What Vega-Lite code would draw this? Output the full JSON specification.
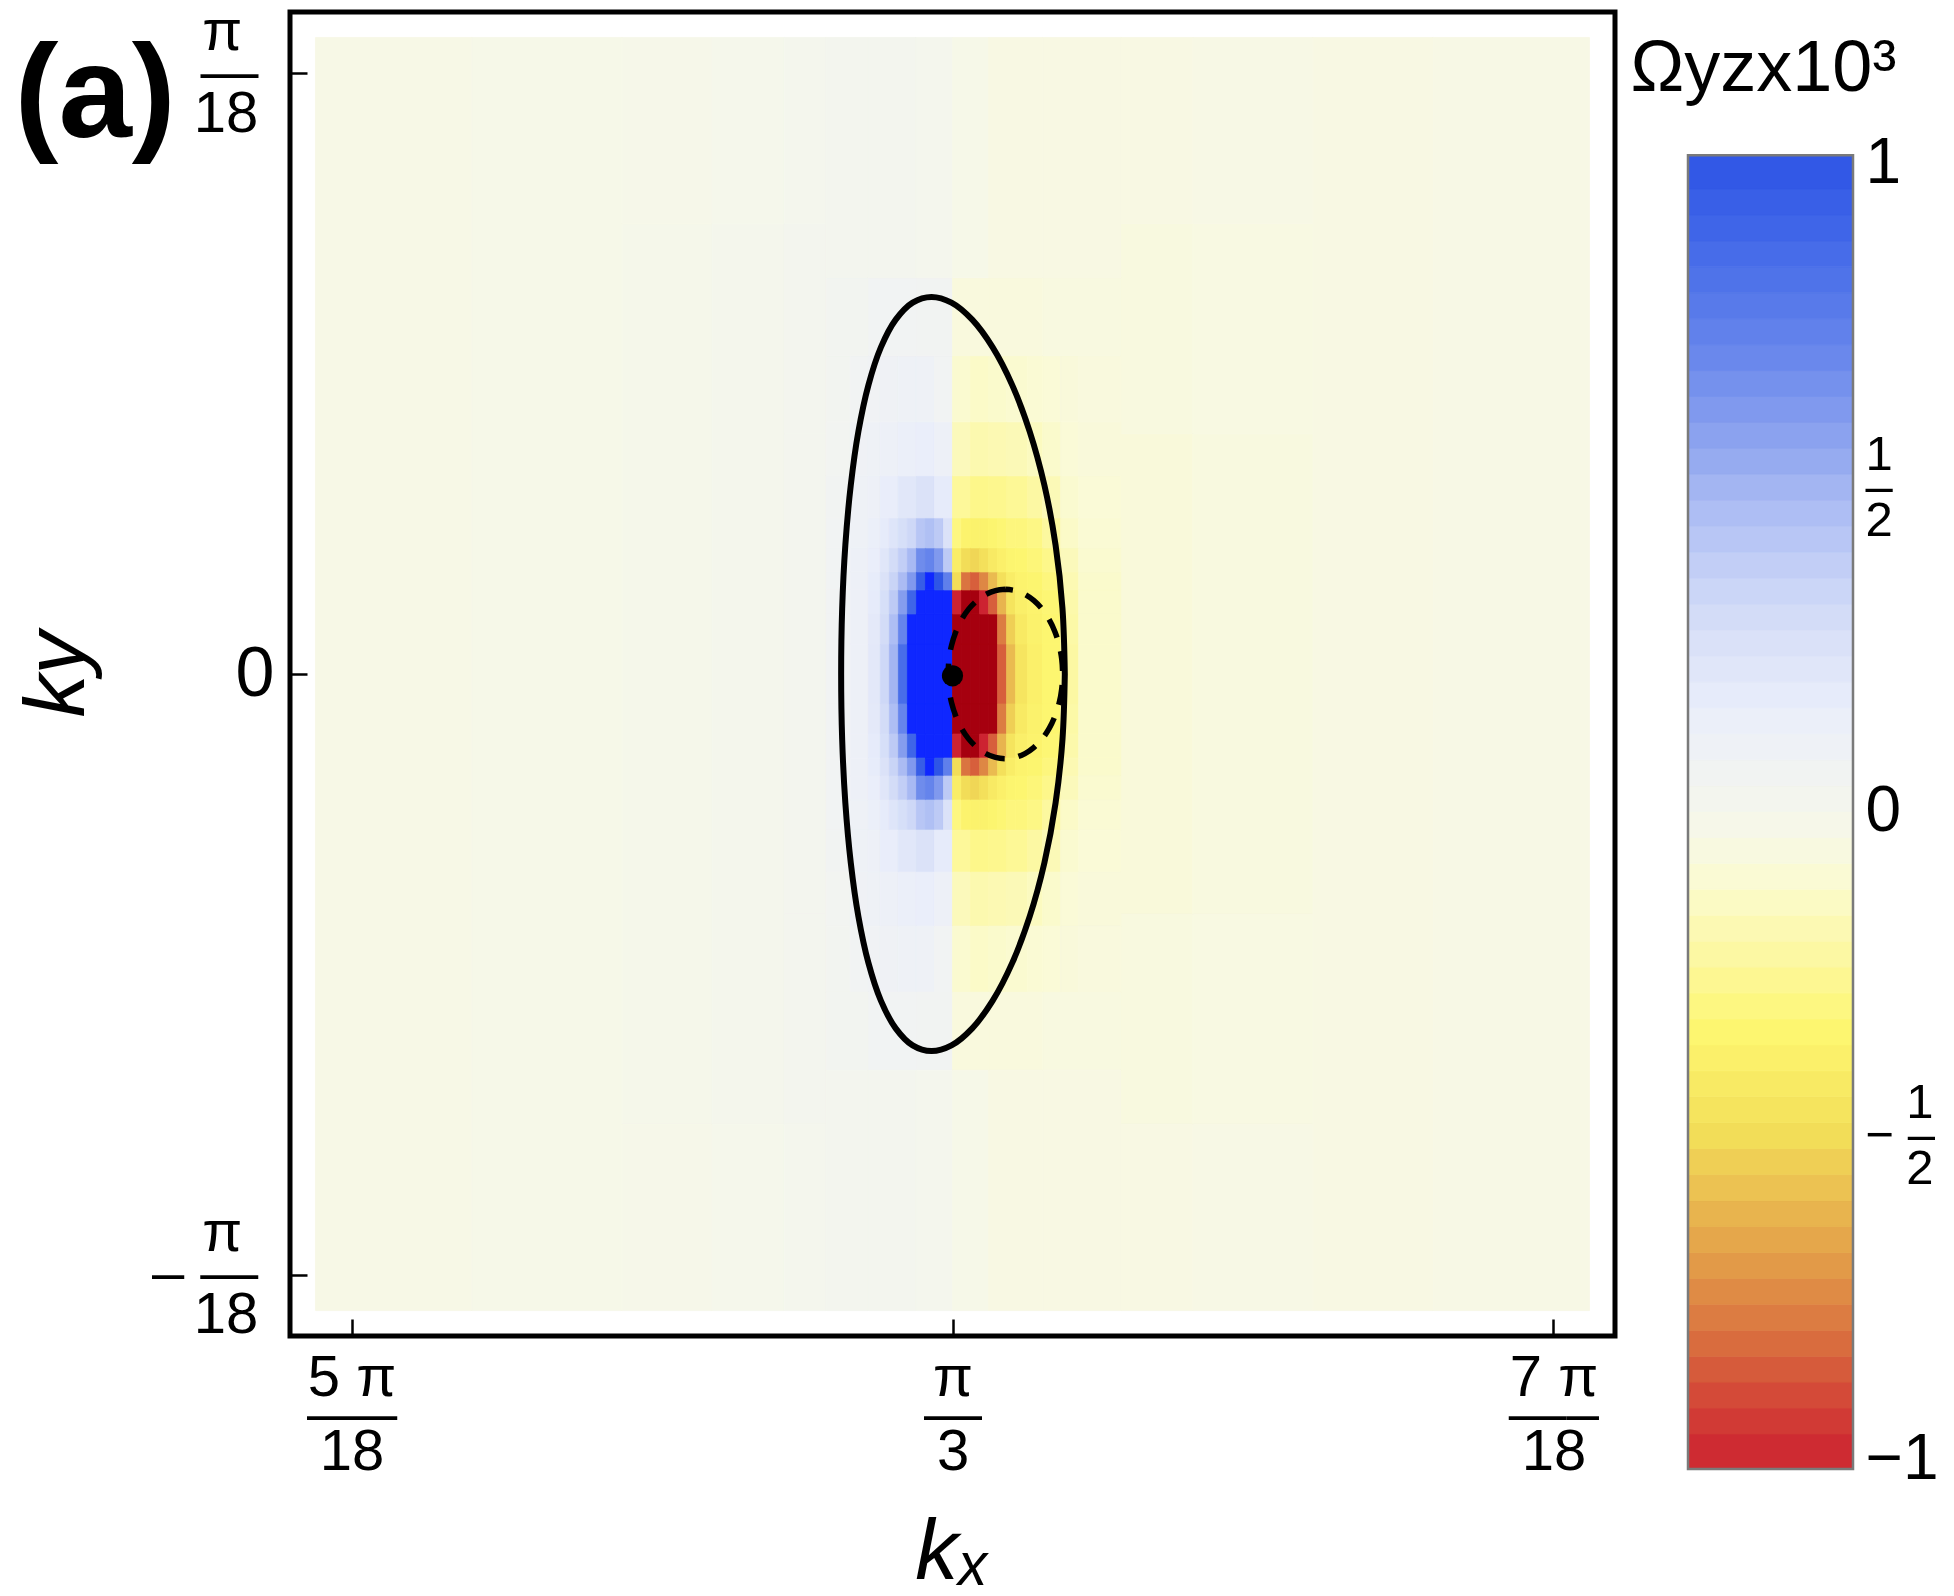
{
"$schema":"https://vega.github.io/schema/vega-lite/v6.json",
"background":"white",
"padding":{"left":11,"top":0,"right":0,"bottom":0},
"title":{"text":"(a)","anchor":"start","frame":"bounds","font":"Liberation Sans","fontSize":132,"fontWeight":"bold","color":"black","baseline":"alphabetic","offset":-268,"dx":3},
"spacing":73,
"bounds":"flush",
"config":{"font":"Liberation Sans","view":{"stroke":"black","strokeWidth":5},"axis":{"labelColor":"black","titleColor":"black","tickColor":"black","labelFont":"Liberation Sans","titleFont":"Liberation Sans","grid":false,"domain":false}},
"hconcat":[
{"width":1325,"height":1324,
"layer":[
{"data":{"values":[
{"x0":4.94,"x1":5.2,"y0":-1.06,"y1":1.06,"v":-0.04},
{"x0":5.2,"x1":5.45,"y0":-1.06,"y1":1.06,"v":-0.03},
{"x0":5.45,"x1":5.6,"y0":-0.75,"y1":0.75,"v":-0.015},
{"x0":5.45,"x1":5.6,"y0":0.75,"y1":1.06,"v":-0.02},
{"x0":5.45,"x1":5.6,"y0":-1.06,"y1":-0.75,"v":-0.02},
{"x0":5.6,"x1":5.72,"y0":-0.75,"y1":0.75,"v":0},
{"x0":5.6,"x1":5.72,"y0":0.75,"y1":1.06,"v":-0.01},
{"x0":5.6,"x1":5.72,"y0":-1.06,"y1":-0.75,"v":-0.01},
{"x0":5.72,"x1":5.79,"y0":-0.4,"y1":0.4,"v":0.02},
{"x0":5.72,"x1":5.79,"y0":0.4,"y1":0.75,"v":0.015},
{"x0":5.72,"x1":5.79,"y0":-0.75,"y1":-0.4,"v":0.015},
{"x0":5.72,"x1":5.79,"y0":0.75,"y1":1.06,"v":0.005},
{"x0":5.72,"x1":5.79,"y0":-1.06,"y1":-0.75,"v":0.005},
{"x0":6.28,"x1":6.4,"y0":-0.4,"y1":0.4,"v":-0.08},
{"x0":6.28,"x1":6.4,"y0":0.4,"y1":0.75,"v":-0.065},
{"x0":6.28,"x1":6.4,"y0":-0.75,"y1":-0.4,"v":-0.065},
{"x0":6.28,"x1":6.4,"y0":0.75,"y1":1.06,"v":-0.05},
{"x0":6.28,"x1":6.4,"y0":-1.06,"y1":-0.75,"v":-0.05},
{"x0":6.4,"x1":6.6,"y0":-0.4,"y1":0.4,"v":-0.065},
{"x0":6.4,"x1":6.6,"y0":0.4,"y1":0.75,"v":-0.055},
{"x0":6.4,"x1":6.6,"y0":-0.75,"y1":-0.4,"v":-0.055},
{"x0":6.4,"x1":6.6,"y0":0.75,"y1":1.06,"v":-0.045},
{"x0":6.4,"x1":6.6,"y0":-1.06,"y1":-0.75,"v":-0.045},
{"x0":6.6,"x1":6.8,"y0":-1.06,"y1":1.06,"v":-0.05},
{"x0":6.8,"x1":7.06,"y0":-1.06,"y1":1.06,"v":-0.045},

{"x0":5.79,"x1":5.83,"y0":-0.05,"y1":0.05,"v":0.07},
{"x0":5.79,"x1":5.83,"y0":0.05,"y1":0.1,"v":0.07},{"x0":5.79,"x1":5.83,"y0":-0.1,"y1":-0.05,"v":0.07},
{"x0":5.79,"x1":5.83,"y0":0.1,"y1":0.14,"v":0.07},{"x0":5.79,"x1":5.83,"y0":-0.14,"y1":-0.1,"v":0.07},
{"x0":5.79,"x1":5.83,"y0":0.14,"y1":0.17,"v":0.07},{"x0":5.79,"x1":5.83,"y0":-0.17,"y1":-0.14,"v":0.07},
{"x0":5.79,"x1":5.83,"y0":0.17,"y1":0.21,"v":0.07},{"x0":5.79,"x1":5.83,"y0":-0.21,"y1":-0.17,"v":0.07},
{"x0":5.79,"x1":5.83,"y0":0.21,"y1":0.26,"v":0.065},{"x0":5.79,"x1":5.83,"y0":-0.26,"y1":-0.21,"v":0.065},

{"x0":5.83,"x1":5.86,"y0":-0.05,"y1":0.05,"v":0.12},
{"x0":5.83,"x1":5.86,"y0":0.05,"y1":0.1,"v":0.12},{"x0":5.83,"x1":5.86,"y0":-0.1,"y1":-0.05,"v":0.12},
{"x0":5.83,"x1":5.86,"y0":0.1,"y1":0.14,"v":0.12},{"x0":5.83,"x1":5.86,"y0":-0.14,"y1":-0.1,"v":0.12},
{"x0":5.83,"x1":5.86,"y0":0.14,"y1":0.17,"v":0.115},{"x0":5.83,"x1":5.86,"y0":-0.17,"y1":-0.14,"v":0.115},
{"x0":5.83,"x1":5.86,"y0":0.17,"y1":0.21,"v":0.11},{"x0":5.83,"x1":5.86,"y0":-0.21,"y1":-0.17,"v":0.11},
{"x0":5.83,"x1":5.86,"y0":0.21,"y1":0.26,"v":0.105},{"x0":5.83,"x1":5.86,"y0":-0.26,"y1":-0.21,"v":0.105},

{"x0":5.86,"x1":5.88,"y0":-0.05,"y1":0.05,"v":0.2},
{"x0":5.86,"x1":5.88,"y0":0.05,"y1":0.1,"v":0.19},{"x0":5.86,"x1":5.88,"y0":-0.1,"y1":-0.05,"v":0.19},
{"x0":5.86,"x1":5.88,"y0":0.1,"y1":0.14,"v":0.18},{"x0":5.86,"x1":5.88,"y0":-0.14,"y1":-0.1,"v":0.18},
{"x0":5.86,"x1":5.88,"y0":0.14,"y1":0.17,"v":0.17},{"x0":5.86,"x1":5.88,"y0":-0.17,"y1":-0.14,"v":0.17},
{"x0":5.86,"x1":5.88,"y0":0.17,"y1":0.21,"v":0.15},{"x0":5.86,"x1":5.88,"y0":-0.21,"y1":-0.17,"v":0.15},
{"x0":5.86,"x1":5.88,"y0":0.21,"y1":0.26,"v":0.14},{"x0":5.86,"x1":5.88,"y0":-0.26,"y1":-0.21,"v":0.14},

{"x0":5.88,"x1":5.895,"y0":-0.05,"y1":0.05,"v":0.33},
{"x0":5.88,"x1":5.895,"y0":0.05,"y1":0.1,"v":0.3},{"x0":5.88,"x1":5.895,"y0":-0.1,"y1":-0.05,"v":0.3},
{"x0":5.88,"x1":5.895,"y0":0.1,"y1":0.14,"v":0.28},{"x0":5.88,"x1":5.895,"y0":-0.14,"y1":-0.1,"v":0.28},
{"x0":5.88,"x1":5.895,"y0":0.14,"y1":0.17,"v":0.25},{"x0":5.88,"x1":5.895,"y0":-0.17,"y1":-0.14,"v":0.25},
{"x0":5.88,"x1":5.895,"y0":0.17,"y1":0.21,"v":0.22},{"x0":5.88,"x1":5.895,"y0":-0.21,"y1":-0.17,"v":0.22},
{"x0":5.88,"x1":5.895,"y0":0.21,"y1":0.26,"v":0.18},{"x0":5.88,"x1":5.895,"y0":-0.26,"y1":-0.21,"v":0.18},

{"x0":5.895,"x1":5.91,"y0":-0.05,"y1":0.05,"v":0.5},
{"x0":5.895,"x1":5.91,"y0":0.05,"y1":0.1,"v":0.46},{"x0":5.895,"x1":5.91,"y0":-0.1,"y1":-0.05,"v":0.46},
{"x0":5.895,"x1":5.91,"y0":0.1,"y1":0.14,"v":0.4},{"x0":5.895,"x1":5.91,"y0":-0.14,"y1":-0.1,"v":0.4},
{"x0":5.895,"x1":5.91,"y0":0.14,"y1":0.17,"v":0.35},{"x0":5.895,"x1":5.91,"y0":-0.17,"y1":-0.14,"v":0.35},
{"x0":5.895,"x1":5.91,"y0":0.17,"y1":0.21,"v":0.3},{"x0":5.895,"x1":5.91,"y0":-0.21,"y1":-0.17,"v":0.3},
{"x0":5.895,"x1":5.91,"y0":0.21,"y1":0.26,"v":0.23},{"x0":5.895,"x1":5.91,"y0":-0.26,"y1":-0.21,"v":0.23},

{"x0":5.91,"x1":5.925,"y0":-0.05,"y1":0.05,"v":0.85},
{"x0":5.91,"x1":5.925,"y0":0.05,"y1":0.1,"v":0.72},{"x0":5.91,"x1":5.925,"y0":-0.1,"y1":-0.05,"v":0.72},
{"x0":5.91,"x1":5.925,"y0":0.1,"y1":0.14,"v":0.6},{"x0":5.91,"x1":5.925,"y0":-0.14,"y1":-0.1,"v":0.6},
{"x0":5.91,"x1":5.925,"y0":0.14,"y1":0.17,"v":0.47},{"x0":5.91,"x1":5.925,"y0":-0.17,"y1":-0.14,"v":0.47},
{"x0":5.91,"x1":5.925,"y0":0.17,"y1":0.21,"v":0.38},{"x0":5.91,"x1":5.925,"y0":-0.21,"y1":-0.17,"v":0.38},
{"x0":5.91,"x1":5.925,"y0":0.21,"y1":0.26,"v":0.28},{"x0":5.91,"x1":5.925,"y0":-0.26,"y1":-0.21,"v":0.28},

{"x0":5.925,"x1":5.94,"y0":-0.05,"y1":0.05,"v":1.2},
{"x0":5.925,"x1":5.94,"y0":0.05,"y1":0.1,"v":1.2},{"x0":5.925,"x1":5.94,"y0":-0.1,"y1":-0.05,"v":1.2},
{"x0":5.925,"x1":5.94,"y0":0.1,"y1":0.14,"v":0.9},{"x0":5.925,"x1":5.94,"y0":-0.14,"y1":-0.1,"v":0.9},
{"x0":5.925,"x1":5.94,"y0":0.14,"y1":0.17,"v":0.62},{"x0":5.925,"x1":5.94,"y0":-0.17,"y1":-0.14,"v":0.62},
{"x0":5.925,"x1":5.94,"y0":0.17,"y1":0.21,"v":0.48},{"x0":5.925,"x1":5.94,"y0":-0.21,"y1":-0.17,"v":0.48},
{"x0":5.925,"x1":5.94,"y0":0.21,"y1":0.26,"v":0.33},{"x0":5.925,"x1":5.94,"y0":-0.26,"y1":-0.21,"v":0.33},

{"x0":5.94,"x1":5.955,"y0":-0.05,"y1":0.05,"v":1.2},
{"x0":5.94,"x1":5.955,"y0":0.05,"y1":0.1,"v":1.2},{"x0":5.94,"x1":5.955,"y0":-0.1,"y1":-0.05,"v":1.2},
{"x0":5.94,"x1":5.955,"y0":0.1,"y1":0.14,"v":1.2},{"x0":5.94,"x1":5.955,"y0":-0.14,"y1":-0.1,"v":1.2},
{"x0":5.94,"x1":5.955,"y0":0.14,"y1":0.17,"v":0.95},{"x0":5.94,"x1":5.955,"y0":-0.17,"y1":-0.14,"v":0.95},
{"x0":5.94,"x1":5.955,"y0":0.17,"y1":0.21,"v":0.68},{"x0":5.94,"x1":5.955,"y0":-0.21,"y1":-0.17,"v":0.68},
{"x0":5.94,"x1":5.955,"y0":0.21,"y1":0.26,"v":0.42},{"x0":5.94,"x1":5.955,"y0":-0.26,"y1":-0.21,"v":0.42},

{"x0":5.955,"x1":5.97,"y0":-0.05,"y1":0.05,"v":1.2},
{"x0":5.955,"x1":5.97,"y0":0.05,"y1":0.1,"v":1.2},{"x0":5.955,"x1":5.97,"y0":-0.1,"y1":-0.05,"v":1.2},
{"x0":5.955,"x1":5.97,"y0":0.1,"y1":0.14,"v":1.2},{"x0":5.955,"x1":5.97,"y0":-0.14,"y1":-0.1,"v":1.2},
{"x0":5.955,"x1":5.97,"y0":0.14,"y1":0.17,"v":1.2},{"x0":5.955,"x1":5.97,"y0":-0.17,"y1":-0.14,"v":1.2},
{"x0":5.955,"x1":5.97,"y0":0.17,"y1":0.21,"v":0.72},{"x0":5.955,"x1":5.97,"y0":-0.21,"y1":-0.17,"v":0.72},
{"x0":5.955,"x1":5.97,"y0":0.21,"y1":0.26,"v":0.45},{"x0":5.955,"x1":5.97,"y0":-0.26,"y1":-0.21,"v":0.45},

{"x0":5.97,"x1":5.985,"y0":-0.05,"y1":0.05,"v":1.2},
{"x0":5.97,"x1":5.985,"y0":0.05,"y1":0.1,"v":1.2},{"x0":5.97,"x1":5.985,"y0":-0.1,"y1":-0.05,"v":1.2},
{"x0":5.97,"x1":5.985,"y0":0.1,"y1":0.14,"v":1.2},{"x0":5.97,"x1":5.985,"y0":-0.14,"y1":-0.1,"v":1.2},
{"x0":5.97,"x1":5.985,"y0":0.14,"y1":0.17,"v":1},{"x0":5.97,"x1":5.985,"y0":-0.17,"y1":-0.14,"v":1},
{"x0":5.97,"x1":5.985,"y0":0.17,"y1":0.21,"v":0.62},{"x0":5.97,"x1":5.985,"y0":-0.21,"y1":-0.17,"v":0.62},
{"x0":5.97,"x1":5.985,"y0":0.21,"y1":0.26,"v":0.4},{"x0":5.97,"x1":5.985,"y0":-0.26,"y1":-0.21,"v":0.4},

{"x0":5.985,"x1":6,"y0":-0.05,"y1":0.05,"v":1.2},
{"x0":5.985,"x1":6,"y0":0.05,"y1":0.1,"v":1.2},{"x0":5.985,"x1":6,"y0":-0.1,"y1":-0.05,"v":1.2},
{"x0":5.985,"x1":6,"y0":0.1,"y1":0.14,"v":1.2},{"x0":5.985,"x1":6,"y0":-0.14,"y1":-0.1,"v":1.2},
{"x0":5.985,"x1":6,"y0":0.14,"y1":0.17,"v":0.75},{"x0":5.985,"x1":6,"y0":-0.17,"y1":-0.14,"v":0.75},
{"x0":5.985,"x1":6,"y0":0.17,"y1":0.21,"v":0.4},{"x0":5.985,"x1":6,"y0":-0.21,"y1":-0.17,"v":0.4},
{"x0":5.985,"x1":6,"y0":0.21,"y1":0.26,"v":0.25},{"x0":5.985,"x1":6,"y0":-0.26,"y1":-0.21,"v":0.25},

{"x0":6,"x1":6.015,"y0":-0.05,"y1":0.05,"v":-1.2},
{"x0":6,"x1":6.015,"y0":0.05,"y1":0.1,"v":-1.2},{"x0":6,"x1":6.015,"y0":-0.1,"y1":-0.05,"v":-1.2},
{"x0":6,"x1":6.015,"y0":0.1,"y1":0.14,"v":-1},{"x0":6,"x1":6.015,"y0":-0.14,"y1":-0.1,"v":-1},
{"x0":6,"x1":6.015,"y0":0.14,"y1":0.17,"v":-0.5},{"x0":6,"x1":6.015,"y0":-0.17,"y1":-0.14,"v":-0.5},
{"x0":6,"x1":6.015,"y0":0.17,"y1":0.21,"v":-0.4},{"x0":6,"x1":6.015,"y0":-0.21,"y1":-0.17,"v":-0.4},
{"x0":6,"x1":6.015,"y0":0.21,"y1":0.26,"v":-0.3},{"x0":6,"x1":6.015,"y0":-0.26,"y1":-0.21,"v":-0.3},

{"x0":6.015,"x1":6.03,"y0":-0.05,"y1":0.05,"v":-1.2},
{"x0":6.015,"x1":6.03,"y0":0.05,"y1":0.1,"v":-1.2},{"x0":6.015,"x1":6.03,"y0":-0.1,"y1":-0.05,"v":-1.2},
{"x0":6.015,"x1":6.03,"y0":0.1,"y1":0.14,"v":-1.2},{"x0":6.015,"x1":6.03,"y0":-0.14,"y1":-0.1,"v":-1.2},
{"x0":6.015,"x1":6.03,"y0":0.14,"y1":0.17,"v":-0.8},{"x0":6.015,"x1":6.03,"y0":-0.17,"y1":-0.14,"v":-0.8},
{"x0":6.015,"x1":6.03,"y0":0.17,"y1":0.21,"v":-0.5},{"x0":6.015,"x1":6.03,"y0":-0.21,"y1":-0.17,"v":-0.5},
{"x0":6.015,"x1":6.03,"y0":0.21,"y1":0.26,"v":-0.36},{"x0":6.015,"x1":6.03,"y0":-0.26,"y1":-0.21,"v":-0.36},

{"x0":6.03,"x1":6.045,"y0":-0.05,"y1":0.05,"v":-1.2},
{"x0":6.03,"x1":6.045,"y0":0.05,"y1":0.1,"v":-1.2},{"x0":6.03,"x1":6.045,"y0":-0.1,"y1":-0.05,"v":-1.2},
{"x0":6.03,"x1":6.045,"y0":0.1,"y1":0.14,"v":-1.2},{"x0":6.03,"x1":6.045,"y0":-0.14,"y1":-0.1,"v":-1.2},
{"x0":6.03,"x1":6.045,"y0":0.14,"y1":0.17,"v":-0.85},{"x0":6.03,"x1":6.045,"y0":-0.17,"y1":-0.14,"v":-0.85},
{"x0":6.03,"x1":6.045,"y0":0.17,"y1":0.21,"v":-0.52},{"x0":6.03,"x1":6.045,"y0":-0.21,"y1":-0.17,"v":-0.52},
{"x0":6.03,"x1":6.045,"y0":0.21,"y1":0.26,"v":-0.37},{"x0":6.03,"x1":6.045,"y0":-0.26,"y1":-0.21,"v":-0.37},

{"x0":6.045,"x1":6.06,"y0":-0.05,"y1":0.05,"v":-1.2},
{"x0":6.045,"x1":6.06,"y0":0.05,"y1":0.1,"v":-1.2},{"x0":6.045,"x1":6.06,"y0":-0.1,"y1":-0.05,"v":-1.2},
{"x0":6.045,"x1":6.06,"y0":0.1,"y1":0.14,"v":-1},{"x0":6.045,"x1":6.06,"y0":-0.14,"y1":-0.1,"v":-1},
{"x0":6.045,"x1":6.06,"y0":0.14,"y1":0.17,"v":-0.75},{"x0":6.045,"x1":6.06,"y0":-0.17,"y1":-0.14,"v":-0.75},
{"x0":6.045,"x1":6.06,"y0":0.17,"y1":0.21,"v":-0.48},{"x0":6.045,"x1":6.06,"y0":-0.21,"y1":-0.17,"v":-0.48},
{"x0":6.045,"x1":6.06,"y0":0.21,"y1":0.26,"v":-0.37},{"x0":6.045,"x1":6.06,"y0":-0.26,"y1":-0.21,"v":-0.37},

{"x0":6.06,"x1":6.075,"y0":-0.05,"y1":0.05,"v":-1.2},
{"x0":6.06,"x1":6.075,"y0":0.05,"y1":0.1,"v":-1.1},{"x0":6.06,"x1":6.075,"y0":-0.1,"y1":-0.05,"v":-1.1},
{"x0":6.06,"x1":6.075,"y0":0.1,"y1":0.14,"v":-0.85},{"x0":6.06,"x1":6.075,"y0":-0.14,"y1":-0.1,"v":-0.85},
{"x0":6.06,"x1":6.075,"y0":0.14,"y1":0.17,"v":-0.6},{"x0":6.06,"x1":6.075,"y0":-0.17,"y1":-0.14,"v":-0.6},
{"x0":6.06,"x1":6.075,"y0":0.17,"y1":0.21,"v":-0.42},{"x0":6.06,"x1":6.075,"y0":-0.21,"y1":-0.17,"v":-0.42},
{"x0":6.06,"x1":6.075,"y0":0.21,"y1":0.26,"v":-0.35},{"x0":6.06,"x1":6.075,"y0":-0.26,"y1":-0.21,"v":-0.35},

{"x0":6.075,"x1":6.09,"y0":-0.05,"y1":0.05,"v":-0.85},
{"x0":6.075,"x1":6.09,"y0":0.05,"y1":0.1,"v":-0.78},{"x0":6.075,"x1":6.09,"y0":-0.1,"y1":-0.05,"v":-0.78},
{"x0":6.075,"x1":6.09,"y0":0.1,"y1":0.14,"v":-0.62},{"x0":6.075,"x1":6.09,"y0":-0.14,"y1":-0.1,"v":-0.62},
{"x0":6.075,"x1":6.09,"y0":0.14,"y1":0.17,"v":-0.48},{"x0":6.075,"x1":6.09,"y0":-0.17,"y1":-0.14,"v":-0.48},
{"x0":6.075,"x1":6.09,"y0":0.17,"y1":0.21,"v":-0.38},{"x0":6.075,"x1":6.09,"y0":-0.21,"y1":-0.17,"v":-0.38},
{"x0":6.075,"x1":6.09,"y0":0.21,"y1":0.26,"v":-0.33},{"x0":6.075,"x1":6.09,"y0":-0.26,"y1":-0.21,"v":-0.33},

{"x0":6.09,"x1":6.105,"y0":-0.05,"y1":0.05,"v":-0.6},
{"x0":6.09,"x1":6.105,"y0":0.05,"y1":0.1,"v":-0.54},{"x0":6.09,"x1":6.105,"y0":-0.1,"y1":-0.05,"v":-0.54},
{"x0":6.09,"x1":6.105,"y0":0.1,"y1":0.14,"v":-0.46},{"x0":6.09,"x1":6.105,"y0":-0.14,"y1":-0.1,"v":-0.46},
{"x0":6.09,"x1":6.105,"y0":0.14,"y1":0.17,"v":-0.4},{"x0":6.09,"x1":6.105,"y0":-0.17,"y1":-0.14,"v":-0.4},
{"x0":6.09,"x1":6.105,"y0":0.17,"y1":0.21,"v":-0.35},{"x0":6.09,"x1":6.105,"y0":-0.21,"y1":-0.17,"v":-0.35},
{"x0":6.09,"x1":6.105,"y0":0.21,"y1":0.26,"v":-0.31},{"x0":6.09,"x1":6.105,"y0":-0.26,"y1":-0.21,"v":-0.31},

{"x0":6.105,"x1":6.125,"y0":-0.05,"y1":0.05,"v":-0.45},
{"x0":6.105,"x1":6.125,"y0":0.05,"y1":0.1,"v":-0.42},{"x0":6.105,"x1":6.125,"y0":-0.1,"y1":-0.05,"v":-0.42},
{"x0":6.105,"x1":6.125,"y0":0.1,"y1":0.14,"v":-0.39},{"x0":6.105,"x1":6.125,"y0":-0.14,"y1":-0.1,"v":-0.39},
{"x0":6.105,"x1":6.125,"y0":0.14,"y1":0.17,"v":-0.36},{"x0":6.105,"x1":6.125,"y0":-0.17,"y1":-0.14,"v":-0.36},
{"x0":6.105,"x1":6.125,"y0":0.17,"y1":0.21,"v":-0.34},{"x0":6.105,"x1":6.125,"y0":-0.21,"y1":-0.17,"v":-0.34},
{"x0":6.105,"x1":6.125,"y0":0.21,"y1":0.26,"v":-0.31},{"x0":6.105,"x1":6.125,"y0":-0.26,"y1":-0.21,"v":-0.31},

{"x0":6.125,"x1":6.15,"y0":-0.05,"y1":0.05,"v":-0.38},
{"x0":6.125,"x1":6.15,"y0":0.05,"y1":0.1,"v":-0.37},{"x0":6.125,"x1":6.15,"y0":-0.1,"y1":-0.05,"v":-0.37},
{"x0":6.125,"x1":6.15,"y0":0.1,"y1":0.14,"v":-0.36},{"x0":6.125,"x1":6.15,"y0":-0.14,"y1":-0.1,"v":-0.36},
{"x0":6.125,"x1":6.15,"y0":0.14,"y1":0.17,"v":-0.35},{"x0":6.125,"x1":6.15,"y0":-0.17,"y1":-0.14,"v":-0.35},
{"x0":6.125,"x1":6.15,"y0":0.17,"y1":0.21,"v":-0.32},{"x0":6.125,"x1":6.15,"y0":-0.21,"y1":-0.17,"v":-0.32},
{"x0":6.125,"x1":6.15,"y0":0.21,"y1":0.26,"v":-0.29},{"x0":6.125,"x1":6.15,"y0":-0.26,"y1":-0.21,"v":-0.29},

{"x0":6.15,"x1":6.18,"y0":-0.05,"y1":0.05,"v":-0.34},
{"x0":6.15,"x1":6.18,"y0":0.05,"y1":0.1,"v":-0.34},{"x0":6.15,"x1":6.18,"y0":-0.1,"y1":-0.05,"v":-0.34},
{"x0":6.15,"x1":6.18,"y0":0.1,"y1":0.14,"v":-0.33},{"x0":6.15,"x1":6.18,"y0":-0.14,"y1":-0.1,"v":-0.33},
{"x0":6.15,"x1":6.18,"y0":0.14,"y1":0.17,"v":-0.31},{"x0":6.15,"x1":6.18,"y0":-0.17,"y1":-0.14,"v":-0.31},
{"x0":6.15,"x1":6.18,"y0":0.17,"y1":0.21,"v":-0.28},{"x0":6.15,"x1":6.18,"y0":-0.21,"y1":-0.17,"v":-0.28},
{"x0":6.15,"x1":6.18,"y0":0.21,"y1":0.26,"v":-0.23},{"x0":6.15,"x1":6.18,"y0":-0.26,"y1":-0.21,"v":-0.23},

{"x0":6.18,"x1":6.21,"y0":-0.05,"y1":0.05,"v":-0.22},
{"x0":6.18,"x1":6.21,"y0":0.05,"y1":0.1,"v":-0.21},{"x0":6.18,"x1":6.21,"y0":-0.1,"y1":-0.05,"v":-0.21},
{"x0":6.18,"x1":6.21,"y0":0.1,"y1":0.14,"v":-0.2},{"x0":6.18,"x1":6.21,"y0":-0.14,"y1":-0.1,"v":-0.2},
{"x0":6.18,"x1":6.21,"y0":0.14,"y1":0.17,"v":-0.18},{"x0":6.18,"x1":6.21,"y0":-0.17,"y1":-0.14,"v":-0.18},
{"x0":6.18,"x1":6.21,"y0":0.17,"y1":0.21,"v":-0.16},{"x0":6.18,"x1":6.21,"y0":-0.21,"y1":-0.17,"v":-0.16},
{"x0":6.18,"x1":6.21,"y0":0.21,"y1":0.26,"v":-0.13},{"x0":6.18,"x1":6.21,"y0":-0.26,"y1":-0.21,"v":-0.13},

{"x0":6.21,"x1":6.28,"y0":-0.05,"y1":0.05,"v":-0.12},
{"x0":6.21,"x1":6.28,"y0":0.05,"y1":0.1,"v":-0.12},{"x0":6.21,"x1":6.28,"y0":-0.1,"y1":-0.05,"v":-0.12},
{"x0":6.21,"x1":6.28,"y0":0.1,"y1":0.14,"v":-0.12},{"x0":6.21,"x1":6.28,"y0":-0.14,"y1":-0.1,"v":-0.12},
{"x0":6.21,"x1":6.28,"y0":0.14,"y1":0.17,"v":-0.12},{"x0":6.21,"x1":6.28,"y0":-0.17,"y1":-0.14,"v":-0.12},
{"x0":6.21,"x1":6.28,"y0":0.17,"y1":0.21,"v":-0.11},{"x0":6.21,"x1":6.28,"y0":-0.21,"y1":-0.17,"v":-0.11},
{"x0":6.21,"x1":6.28,"y0":0.21,"y1":0.26,"v":-0.1},{"x0":6.21,"x1":6.28,"y0":-0.26,"y1":-0.21,"v":-0.1},

{"x0":5.79,"x1":5.83,"y0":0.26,"y1":0.33,"v":0.06},{"x0":5.79,"x1":5.83,"y0":-0.33,"y1":-0.26,"v":0.06},
{"x0":5.79,"x1":5.83,"y0":0.33,"y1":0.42,"v":0.05},{"x0":5.79,"x1":5.83,"y0":-0.42,"y1":-0.33,"v":0.05},
{"x0":5.79,"x1":5.83,"y0":0.42,"y1":0.53,"v":0.035},{"x0":5.79,"x1":5.83,"y0":-0.53,"y1":-0.42,"v":0.035},
{"x0":5.83,"x1":5.86,"y0":0.26,"y1":0.33,"v":0.1},{"x0":5.83,"x1":5.86,"y0":-0.33,"y1":-0.26,"v":0.1},
{"x0":5.83,"x1":5.86,"y0":0.33,"y1":0.42,"v":0.09},{"x0":5.83,"x1":5.86,"y0":-0.42,"y1":-0.33,"v":0.09},
{"x0":5.83,"x1":5.86,"y0":0.42,"y1":0.53,"v":0.07},{"x0":5.83,"x1":5.86,"y0":-0.53,"y1":-0.42,"v":0.07},
{"x0":5.86,"x1":5.88,"y0":0.26,"y1":0.33,"v":0.12},{"x0":5.86,"x1":5.88,"y0":-0.33,"y1":-0.26,"v":0.12},
{"x0":5.86,"x1":5.88,"y0":0.33,"y1":0.42,"v":0.1},{"x0":5.86,"x1":5.88,"y0":-0.42,"y1":-0.33,"v":0.1},
{"x0":5.86,"x1":5.88,"y0":0.42,"y1":0.53,"v":0.08},{"x0":5.86,"x1":5.88,"y0":-0.53,"y1":-0.42,"v":0.08},
{"x0":5.88,"x1":5.91,"y0":0.26,"y1":0.33,"v":0.16},{"x0":5.88,"x1":5.91,"y0":-0.33,"y1":-0.26,"v":0.16},
{"x0":5.88,"x1":5.91,"y0":0.33,"y1":0.42,"v":0.12},{"x0":5.88,"x1":5.91,"y0":-0.42,"y1":-0.33,"v":0.12},
{"x0":5.88,"x1":5.91,"y0":0.42,"y1":0.53,"v":0.09},{"x0":5.88,"x1":5.91,"y0":-0.53,"y1":-0.42,"v":0.09},
{"x0":5.91,"x1":5.94,"y0":0.26,"y1":0.33,"v":0.21},{"x0":5.91,"x1":5.94,"y0":-0.33,"y1":-0.26,"v":0.21},
{"x0":5.91,"x1":5.94,"y0":0.33,"y1":0.42,"v":0.14},{"x0":5.91,"x1":5.94,"y0":-0.42,"y1":-0.33,"v":0.14},
{"x0":5.91,"x1":5.94,"y0":0.42,"y1":0.53,"v":0.1},{"x0":5.91,"x1":5.94,"y0":-0.53,"y1":-0.42,"v":0.1},
{"x0":5.94,"x1":5.97,"y0":0.26,"y1":0.33,"v":0.25},{"x0":5.94,"x1":5.97,"y0":-0.33,"y1":-0.26,"v":0.25},
{"x0":5.94,"x1":5.97,"y0":0.33,"y1":0.42,"v":0.15},{"x0":5.94,"x1":5.97,"y0":-0.42,"y1":-0.33,"v":0.15},
{"x0":5.94,"x1":5.97,"y0":0.42,"y1":0.53,"v":0.1},{"x0":5.94,"x1":5.97,"y0":-0.53,"y1":-0.42,"v":0.1},
{"x0":5.97,"x1":6,"y0":0.26,"y1":0.33,"v":0.18},{"x0":5.97,"x1":6,"y0":-0.33,"y1":-0.26,"v":0.18},
{"x0":5.97,"x1":6,"y0":0.33,"y1":0.42,"v":0.11},{"x0":5.97,"x1":6,"y0":-0.42,"y1":-0.33,"v":0.11},
{"x0":5.97,"x1":6,"y0":0.42,"y1":0.53,"v":0.07},{"x0":5.97,"x1":6,"y0":-0.53,"y1":-0.42,"v":0.07},
{"x0":6,"x1":6.03,"y0":0.26,"y1":0.33,"v":-0.24},{"x0":6,"x1":6.03,"y0":-0.33,"y1":-0.26,"v":-0.24},
{"x0":6,"x1":6.03,"y0":0.33,"y1":0.42,"v":-0.16},{"x0":6,"x1":6.03,"y0":-0.42,"y1":-0.33,"v":-0.16},
{"x0":6,"x1":6.03,"y0":0.42,"y1":0.53,"v":-0.11},{"x0":6,"x1":6.03,"y0":-0.53,"y1":-0.42,"v":-0.11},
{"x0":6.03,"x1":6.06,"y0":0.26,"y1":0.33,"v":-0.28},{"x0":6.03,"x1":6.06,"y0":-0.33,"y1":-0.26,"v":-0.28},
{"x0":6.03,"x1":6.06,"y0":0.33,"y1":0.42,"v":-0.19},{"x0":6.03,"x1":6.06,"y0":-0.42,"y1":-0.33,"v":-0.19},
{"x0":6.03,"x1":6.06,"y0":0.42,"y1":0.53,"v":-0.13},{"x0":6.03,"x1":6.06,"y0":-0.53,"y1":-0.42,"v":-0.13},
{"x0":6.06,"x1":6.09,"y0":0.26,"y1":0.33,"v":-0.27},{"x0":6.06,"x1":6.09,"y0":-0.33,"y1":-0.26,"v":-0.27},
{"x0":6.06,"x1":6.09,"y0":0.33,"y1":0.42,"v":-0.18},{"x0":6.06,"x1":6.09,"y0":-0.42,"y1":-0.33,"v":-0.18},
{"x0":6.06,"x1":6.09,"y0":0.42,"y1":0.53,"v":-0.12},{"x0":6.06,"x1":6.09,"y0":-0.53,"y1":-0.42,"v":-0.12},
{"x0":6.09,"x1":6.125,"y0":0.26,"y1":0.33,"v":-0.25},{"x0":6.09,"x1":6.125,"y0":-0.33,"y1":-0.26,"v":-0.25},
{"x0":6.09,"x1":6.125,"y0":0.33,"y1":0.42,"v":-0.17},{"x0":6.09,"x1":6.125,"y0":-0.42,"y1":-0.33,"v":-0.17},
{"x0":6.09,"x1":6.125,"y0":0.42,"y1":0.53,"v":-0.11},{"x0":6.09,"x1":6.125,"y0":-0.53,"y1":-0.42,"v":-0.11},
{"x0":6.125,"x1":6.15,"y0":0.26,"y1":0.33,"v":-0.22},{"x0":6.125,"x1":6.15,"y0":-0.33,"y1":-0.26,"v":-0.22},
{"x0":6.125,"x1":6.15,"y0":0.33,"y1":0.42,"v":-0.15},{"x0":6.125,"x1":6.15,"y0":-0.42,"y1":-0.33,"v":-0.15},
{"x0":6.125,"x1":6.15,"y0":0.42,"y1":0.53,"v":-0.1},{"x0":6.125,"x1":6.15,"y0":-0.53,"y1":-0.42,"v":-0.1},
{"x0":6.15,"x1":6.18,"y0":0.26,"y1":0.33,"v":-0.17},{"x0":6.15,"x1":6.18,"y0":-0.33,"y1":-0.26,"v":-0.17},
{"x0":6.15,"x1":6.18,"y0":0.33,"y1":0.42,"v":-0.12},{"x0":6.15,"x1":6.18,"y0":-0.42,"y1":-0.33,"v":-0.12},
{"x0":6.15,"x1":6.18,"y0":0.42,"y1":0.53,"v":-0.09},{"x0":6.15,"x1":6.18,"y0":-0.53,"y1":-0.42,"v":-0.09},
{"x0":6.18,"x1":6.21,"y0":0.26,"y1":0.33,"v":-0.11},{"x0":6.18,"x1":6.21,"y0":-0.33,"y1":-0.26,"v":-0.11},
{"x0":6.18,"x1":6.21,"y0":0.33,"y1":0.42,"v":-0.09},{"x0":6.18,"x1":6.21,"y0":-0.42,"y1":-0.33,"v":-0.09},
{"x0":6.18,"x1":6.21,"y0":0.42,"y1":0.53,"v":-0.08},{"x0":6.18,"x1":6.21,"y0":-0.53,"y1":-0.42,"v":-0.08},
{"x0":6.21,"x1":6.28,"y0":0.26,"y1":0.33,"v":-0.09},{"x0":6.21,"x1":6.28,"y0":-0.33,"y1":-0.26,"v":-0.09},
{"x0":6.21,"x1":6.28,"y0":0.33,"y1":0.42,"v":-0.08},{"x0":6.21,"x1":6.28,"y0":-0.42,"y1":-0.33,"v":-0.08},
{"x0":6.21,"x1":6.28,"y0":0.42,"y1":0.53,"v":-0.07},{"x0":6.21,"x1":6.28,"y0":-0.53,"y1":-0.42,"v":-0.07},

{"x0":5.79,"x1":5.86,"y0":0.53,"y1":0.66,"v":0.04},{"x0":5.79,"x1":5.86,"y0":-0.66,"y1":-0.53,"v":0.04},
{"x0":5.79,"x1":5.86,"y0":0.66,"y1":1.06,"v":0.015},{"x0":5.79,"x1":5.86,"y0":-1.06,"y1":-0.66,"v":0.015},
{"x0":5.86,"x1":5.94,"y0":0.53,"y1":0.66,"v":0.07},{"x0":5.86,"x1":5.94,"y0":-0.66,"y1":-0.53,"v":0.07},
{"x0":5.86,"x1":5.94,"y0":0.66,"y1":1.06,"v":0.015},{"x0":5.86,"x1":5.94,"y0":-1.06,"y1":-0.66,"v":0.015},
{"x0":5.94,"x1":6,"y0":0.53,"y1":0.66,"v":0.06},{"x0":5.94,"x1":6,"y0":-0.66,"y1":-0.53,"v":0.06},
{"x0":5.94,"x1":6,"y0":0.66,"y1":1.06,"v":0.01},{"x0":5.94,"x1":6,"y0":-1.06,"y1":-0.66,"v":0.01},
{"x0":6,"x1":6.06,"y0":0.53,"y1":0.66,"v":-0.07},{"x0":6,"x1":6.06,"y0":-0.66,"y1":-0.53,"v":-0.07},
{"x0":6,"x1":6.06,"y0":0.66,"y1":1.06,"v":-0.03},{"x0":6,"x1":6.06,"y0":-1.06,"y1":-0.66,"v":-0.03},
{"x0":6.06,"x1":6.15,"y0":0.53,"y1":0.66,"v":-0.07},{"x0":6.06,"x1":6.15,"y0":-0.66,"y1":-0.53,"v":-0.07},
{"x0":6.06,"x1":6.15,"y0":0.66,"y1":1.06,"v":-0.05},{"x0":6.06,"x1":6.15,"y0":-1.06,"y1":-0.66,"v":-0.05},
{"x0":6.15,"x1":6.28,"y0":0.53,"y1":0.66,"v":-0.06},{"x0":6.15,"x1":6.28,"y0":-0.66,"y1":-0.53,"v":-0.06},
{"x0":6.15,"x1":6.28,"y0":0.66,"y1":1.06,"v":-0.05},{"x0":6.15,"x1":6.28,"y0":-1.06,"y1":-0.66,"v":-0.05}
]},
"mark":{"type":"rect","strokeWidth":0.8},
"encoding":{
"x":{"field":"x0","type":"quantitative","title":"kₓ","scale":{"domain":[4.8976,7.1024],"nice":false,"zero":false},
"axis":{"values":[5,6,7],"labelExpr":"datum.value == 5 ? ['5 π','—–','18'] : datum.value == 6 ? ['π','—','3'] : ['7 π','—–','18']","labelFontSize":58,"labelLineHeight":37,"labelPadding":30,"labelOverlap":false,"labelFlush":false,"labelBound":false,"tickSize":-17,"tickWidth":2.5,"titleFontSize":86,"titleFontStyle":"italic","titleFontWeight":"normal","titleY":242,"titleBaseline":"alphabetic"}},
"x2":{"field":"x1"},
"y":{"field":"y0","type":"quantitative","title":"ky","scale":{"domain":[-1.1024,1.1024],"nice":false,"zero":false},
"axis":{"values":[-1,0,1],"labelExpr":"datum.value == 0 ? ['', '0', ''] : datum.value > 0 ? ['π\u00a0\u00a0\u200b', '—\u00a0\u200b', '18\u00a0\u200b'] : ['π\u00a0\u00a0\u200b', '–\u00a0—\u00a0\u200b', '18\u00a0\u200b']","labelFontSize":{"condition":{"test":"datum.value == 0","value":70},"value":58},"labelLineHeight":41,"labelOffset":-41,"labelPadding":33,"labelOverlap":false,"labelFlush":false,"labelBound":false,"tickSize":-17,"tickWidth":2.5,"titleFontSize":86,"titleFontStyle":"italic","titleFontWeight":"normal","titleX":-233,"titleY":662,"titleAngle":270,"titleAlign":"center","titleBaseline":"middle"}},
"y2":{"field":"y1"},
"color":{"field":"v","type":"quantitative","legend":null,"scale":{"zero":false,"interpolate":"rgb","domain":[-1.5,-1.0001,-1,-0.9,-0.8,-0.7,-0.6,-0.5,-0.42,-0.34,-0.27,-0.2,-0.1,-0.04,0,0.08,0.15,0.22,0.32,0.42,0.5,0.56,0.7,0.84,1,1.0001,1.5],"range":["#a6000f","#a6000f","#cd2331","#d44a38","#da7440","#e29a48","#eabb50","#f2dd58","#f8ea64","#fdf670","#fdf78e","#fcf9ab","#fafad4","#f7f8e6","#f4f6ec","#f0f2f4","#eaeefa","#e0e6f9","#d0daf7","#b8c6f5","#a3b5f2","#90a6ef","#6a88ec","#4a6fe9","#2e55e6","#0f27ff","#0f27ff"]}},
"stroke":{"field":"v","type":"quantitative","legend":null,"scale":{"zero":false,"interpolate":"rgb","domain":[-1.5,-1.0001,-1,-0.9,-0.8,-0.7,-0.6,-0.5,-0.42,-0.34,-0.27,-0.2,-0.1,-0.04,0,0.08,0.15,0.22,0.32,0.42,0.5,0.56,0.7,0.84,1,1.0001,1.5],"range":["#a6000f","#a6000f","#cd2331","#d44a38","#da7440","#e29a48","#eabb50","#f2dd58","#f8ea64","#fdf670","#fdf78e","#fcf9ab","#fafad4","#f7f8e6","#f4f6ec","#f0f2f4","#eaeefa","#e0e6f9","#d0daf7","#b8c6f5","#a3b5f2","#90a6ef","#6a88ec","#4a6fe9","#2e55e6","#0f27ff","#0f27ff"]}}
}},
{"data":{"values":[
{"kx":6.1869,"ky":0,"i":0},{"kx":6.183,"ky":0.109,"i":1},{"kx":6.1715,"ky":0.2148,"i":2},{"kx":6.153,"ky":0.314,"i":3},{"kx":6.1285,"ky":0.4037,"i":4},{"kx":6.0994,"ky":0.4811,"i":5},{"kx":6.0669,"ky":0.5439,"i":6},{"kx":6.0328,"ky":0.5901,"i":7},{"kx":5.9983,"ky":0.6185,"i":8},{"kx":5.9649,"ky":0.628,"i":9},{"kx":5.9337,"ky":0.6185,"i":10},{"kx":5.9055,"ky":0.5901,"i":11},{"kx":5.8808,"ky":0.5439,"i":12},{"kx":5.8601,"ky":0.4811,"i":13},{"kx":5.8434,"ky":0.4037,"i":14},{"kx":5.8307,"ky":0.314,"i":15},{"kx":5.8217,"ky":0.2148,"i":16},{"kx":5.8164,"ky":0.109,"i":17},{"kx":5.8147,"ky":0,"i":18},
{"kx":5.8164,"ky":-0.109,"i":19},{"kx":5.8217,"ky":-0.2148,"i":20},{"kx":5.8307,"ky":-0.314,"i":21},{"kx":5.8434,"ky":-0.4037,"i":22},{"kx":5.8601,"ky":-0.4811,"i":23},{"kx":5.8808,"ky":-0.5439,"i":24},{"kx":5.9055,"ky":-0.5901,"i":25},{"kx":5.9337,"ky":-0.6185,"i":26},{"kx":5.9649,"ky":-0.628,"i":27},{"kx":5.9983,"ky":-0.6185,"i":28},{"kx":6.0328,"ky":-0.5901,"i":29},{"kx":6.0669,"ky":-0.5439,"i":30},{"kx":6.0994,"ky":-0.4811,"i":31},{"kx":6.1285,"ky":-0.4037,"i":32},{"kx":6.153,"ky":-0.314,"i":33},{"kx":6.1715,"ky":-0.2148,"i":34},{"kx":6.183,"ky":-0.109,"i":35},{"kx":6.1869,"ky":0,"i":36}
]},
"mark":{"type":"line","color":"black","strokeWidth":6,"interpolate":"catmull-rom"},
"encoding":{"x":{"field":"kx","type":"quantitative","title":"kₓ"},"y":{"field":"ky","type":"quantitative","title":"ky"},"order":{"field":"i"}}},
{"data":{"values":[
{"kx":6.088,"ky":0.141,"i":0},{"kx":6.0715,"ky":0.1389,"i":1},{"kx":6.0554,"ky":0.1325,"i":2},{"kx":6.0404,"ky":0.1221,"i":3},{"kx":6.0268,"ky":0.108,"i":4},{"kx":6.0151,"ky":0.0906,"i":5},{"kx":6.0056,"ky":0.0705,"i":6},{"kx":5.9985,"ky":0.0482,"i":7},{"kx":5.9942,"ky":0.0245,"i":8},{"kx":5.9928,"ky":0,"i":9},{"kx":5.9942,"ky":-0.0245,"i":10},{"kx":5.9985,"ky":-0.0482,"i":11},{"kx":6.0056,"ky":-0.0705,"i":12},{"kx":6.0151,"ky":-0.0906,"i":13},{"kx":6.0268,"ky":-0.108,"i":14},{"kx":6.0404,"ky":-0.1221,"i":15},{"kx":6.0554,"ky":-0.1325,"i":16},{"kx":6.0715,"ky":-0.1389,"i":17},{"kx":6.088,"ky":-0.141,"i":18},{"kx":6.1045,"ky":-0.1389,"i":19},{"kx":6.1206,"ky":-0.1325,"i":20},{"kx":6.1356,"ky":-0.1221,"i":21},{"kx":6.1492,"ky":-0.108,"i":22},{"kx":6.1609,"ky":-0.0906,"i":23},{"kx":6.1704,"ky":-0.0705,"i":24},{"kx":6.1775,"ky":-0.0482,"i":25},{"kx":6.1818,"ky":-0.0245,"i":26},{"kx":6.1832,"ky":0,"i":27},{"kx":6.1818,"ky":0.0245,"i":28},{"kx":6.1775,"ky":0.0482,"i":29},{"kx":6.1704,"ky":0.0705,"i":30},{"kx":6.1609,"ky":0.0906,"i":31},{"kx":6.1492,"ky":0.108,"i":32},{"kx":6.1356,"ky":0.1221,"i":33},{"kx":6.1206,"ky":0.1325,"i":34},{"kx":6.1045,"ky":0.1389,"i":35},{"kx":6.088,"ky":0.141,"i":36}
]},
"mark":{"type":"line","color":"black","strokeWidth":5.5,"strokeDash":[20,14],"interpolate":"catmull-rom"},
"encoding":{"x":{"field":"kx","type":"quantitative","title":"kₓ"},"y":{"field":"ky","type":"quantitative","title":"ky"},"order":{"field":"i"}}},
{"data":{"values":[{"kx":6.0,"ky":-0.003}]},
"mark":{"type":"circle","color":"black","size":450,"opacity":1},
"encoding":{"x":{"field":"kx","type":"quantitative","title":"kₓ"},"y":{"field":"ky","type":"quantitative","title":"ky"}}}
]},
{"width":165,"height":1457,"view":{"stroke":null},
"layer":[
{"data":{"values":[
{"lo":-1.014,"hi":-0.96,"v":-0.98},{"lo":-0.96,"hi":-0.92,"v":-0.94},{"lo":-0.92,"hi":-0.88,"v":-0.9},{"lo":-0.88,"hi":-0.84,"v":-0.86},{"lo":-0.84,"hi":-0.8,"v":-0.82},{"lo":-0.8,"hi":-0.76,"v":-0.78},{"lo":-0.76,"hi":-0.72,"v":-0.74},{"lo":-0.72,"hi":-0.68,"v":-0.7},{"lo":-0.68,"hi":-0.64,"v":-0.66},{"lo":-0.64,"hi":-0.6,"v":-0.62},{"lo":-0.6,"hi":-0.56,"v":-0.58},{"lo":-0.56,"hi":-0.52,"v":-0.54},{"lo":-0.52,"hi":-0.48,"v":-0.5},{"lo":-0.48,"hi":-0.44,"v":-0.46},{"lo":-0.44,"hi":-0.4,"v":-0.42},{"lo":-0.4,"hi":-0.36,"v":-0.38},{"lo":-0.36,"hi":-0.32,"v":-0.34},{"lo":-0.32,"hi":-0.28,"v":-0.3},{"lo":-0.28,"hi":-0.24,"v":-0.26},{"lo":-0.24,"hi":-0.2,"v":-0.22},{"lo":-0.2,"hi":-0.16,"v":-0.18},{"lo":-0.16,"hi":-0.12,"v":-0.14},{"lo":-0.12,"hi":-0.08,"v":-0.1},{"lo":-0.08,"hi":-0.04,"v":-0.06},{"lo":-0.04,"hi":0,"v":-0.02},
{"lo":0,"hi":0.04,"v":0.02},{"lo":0.04,"hi":0.08,"v":0.06},{"lo":0.08,"hi":0.12,"v":0.1},{"lo":0.12,"hi":0.16,"v":0.14},{"lo":0.16,"hi":0.2,"v":0.18},{"lo":0.2,"hi":0.24,"v":0.22},{"lo":0.24,"hi":0.28,"v":0.26},{"lo":0.28,"hi":0.32,"v":0.3},{"lo":0.32,"hi":0.36,"v":0.34},{"lo":0.36,"hi":0.4,"v":0.38},{"lo":0.4,"hi":0.44,"v":0.42},{"lo":0.44,"hi":0.48,"v":0.46},{"lo":0.48,"hi":0.52,"v":0.5},{"lo":0.52,"hi":0.56,"v":0.54},{"lo":0.56,"hi":0.6,"v":0.58},{"lo":0.6,"hi":0.64,"v":0.62},{"lo":0.64,"hi":0.68,"v":0.66},{"lo":0.68,"hi":0.72,"v":0.7},{"lo":0.72,"hi":0.76,"v":0.74},{"lo":0.76,"hi":0.8,"v":0.78},{"lo":0.8,"hi":0.84,"v":0.82},{"lo":0.84,"hi":0.88,"v":0.86},{"lo":0.88,"hi":0.92,"v":0.9},{"lo":0.92,"hi":0.96,"v":0.94},{"lo":0.96,"hi":1.012,"v":0.98}
]},
"mark":{"type":"rect","strokeWidth":0.8},
"encoding":{
"y":{"field":"lo","type":"quantitative","title":"Ωyzx10³","scale":{"domain":[-1.014,1.233],"nice":false,"zero":false},
"axis":{"orient":"right","values":[-1,-0.5,0,0.5,1],"labelExpr":"datum.value == 1 ? ['', '1', ''] : datum.value == 0 ? ['', '0', ''] : datum.value == -1 ? ['', '−1', ''] : datum.value == 0.5 ? ['1', '–', '2'] : ['\u200b\u00a0\u00a0\u00a01', '−\u00a0–', '\u200b\u00a0\u00a0\u00a02']","labelFontSize":{"condition":{"test":"abs(datum.value) == 0.5","value":49},"value":64},"labelLineHeight":33,"labelOffset":-33,"labelPadding":21,"labelOverlap":false,"labelFlush":false,"labelBound":false,"tickSize":-9,"tickColor":"#777777","tickWidth":2,"titleAngle":0,"titleX":-223,"titleY":78,"titleAlign":"left","titleBaseline":"alphabetic","titleFontSize":72,"titleFontWeight":"normal"}},
"y2":{"field":"hi"},
"color":{"field":"v","type":"quantitative","legend":null,"scale":{"zero":false,"interpolate":"rgb","domain":[-1.5,-1.0001,-1,-0.9,-0.8,-0.7,-0.6,-0.5,-0.42,-0.34,-0.27,-0.2,-0.1,-0.04,0,0.08,0.15,0.22,0.32,0.42,0.5,0.56,0.7,0.84,1,1.0001,1.5],"range":["#a6000f","#a6000f","#cd2331","#d44a38","#da7440","#e29a48","#eabb50","#f2dd58","#f8ea64","#fdf670","#fdf78e","#fcf9ab","#fafad4","#f7f8e6","#f4f6ec","#f0f2f4","#eaeefa","#e0e6f9","#d0daf7","#b8c6f5","#a3b5f2","#90a6ef","#6a88ec","#4a6fe9","#2e55e6","#0f27ff","#0f27ff"]}},
"stroke":{"field":"v","type":"quantitative","legend":null,"scale":{"zero":false,"interpolate":"rgb","domain":[-1.5,-1.0001,-1,-0.9,-0.8,-0.7,-0.6,-0.5,-0.42,-0.34,-0.27,-0.2,-0.1,-0.04,0,0.08,0.15,0.22,0.32,0.42,0.5,0.56,0.7,0.84,1,1.0001,1.5],"range":["#a6000f","#a6000f","#cd2331","#d44a38","#da7440","#e29a48","#eabb50","#f2dd58","#f8ea64","#fdf670","#fdf78e","#fcf9ab","#fafad4","#f7f8e6","#f4f6ec","#f0f2f4","#eaeefa","#e0e6f9","#d0daf7","#b8c6f5","#a3b5f2","#90a6ef","#6a88ec","#4a6fe9","#2e55e6","#0f27ff","#0f27ff"]}}
}},
{"data":{"values":[{"lo":-1.014,"hi":1.012}]},
"mark":{"type":"rect","fillOpacity":0,"stroke":"#7a7a7a","strokeWidth":2.5},
"encoding":{"y":{"field":"lo","type":"quantitative","title":"Ωyzx10³"},"y2":{"field":"hi"}}}
]}
]
}
